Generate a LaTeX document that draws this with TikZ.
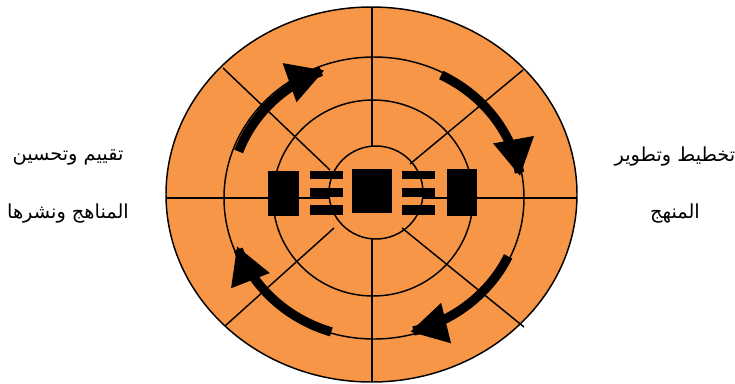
\documentclass[tikz,border=0pt]{standalone}
\usepackage{fontspec}
\usetikzlibrary{arrows.meta}
\TeXXeTstate=1
\newfontfamily\arabicfont[Script=Arabic]{DejaVu Sans}
\definecolor{orangefill}{RGB}{247,150,70}
\begin{document}
\begin{tikzpicture}[x=0.75pt,y=-0.75pt,
  ring/.style={draw=black,line width=1.1pt},
  spoke/.style={draw=black,line width=1.1pt},
  blk/.style={fill=black,draw=none},
  cyc/.style={draw=black,line width=7pt,-{Triangle[length=28pt,width=29pt]}},
  lbl/.style={font=\arabicfont\fontsize{14.5}{17}\selectfont,inner sep=0pt}]
\useasboundingbox (0,0) rectangle (735,383);
% rings
\coordinate (c0) at (371.5,194.5);
\coordinate (c1) at (374,198);
\coordinate (c2) at (373,198);
\coordinate (c3) at (376,192.5);
\fill[orangefill] (c0) ellipse [x radius=205.5, y radius=187.5];
\draw[ring] (c0) ellipse [x radius=205.5, y radius=187.5];
\draw[ring] (c1) ellipse [x radius=150, y radius=141];
\draw[ring] (c2) ellipse [x radius=100, y radius=98];
\draw[ring] (c3) ellipse [x radius=47, y radius=46.5];
% spokes
\coordinate (tA) at (372,7);   \coordinate (tB) at (372,146);
\coordinate (bA) at (372,239); \coordinate (bB) at (372,382);
\coordinate (lA) at (166,198); \coordinate (lB) at (329,198);
\coordinate (rA) at (423,198); \coordinate (rB) at (577,198);
\coordinate (ulA) at (223,68);  \coordinate (ulB) at (330,170);
\coordinate (urA) at (523,70);  \coordinate (urB) at (410,164);
\coordinate (llA) at (225,326); \coordinate (llB) at (334,228);
\coordinate (lrA) at (524,327); \coordinate (lrB) at (402,228);
\draw[spoke] (tA) -- (tB);
\draw[spoke] (bA) -- (bB);
\draw[spoke] (lA) -- (lB);
\draw[spoke] (rA) -- (rB);
\draw[spoke] (ulA) -- (ulB);
\draw[spoke] (urA) -- (urB);
\draw[spoke] (llA) -- (llB);
\draw[spoke] (lrA) -- (lrB);
% central blocks
\fill[blk] (268,171) rectangle (299,216);
\fill[blk] (310,171) rectangle (343,179);
\fill[blk] (310,188) rectangle (343,197);
\fill[blk] (310,205) rectangle (343,215);
\fill[blk] (352,169) rectangle (392,213);
\fill[blk] (402,171) rectangle (435,179);
\fill[blk] (402,188) rectangle (435,197);
\fill[blk] (402,205) rectangle (435,215);
\fill[blk] (447,169) rectangle (477,216);
% cycle arrows (clockwise)
\draw[cyc] plot[domain=200:250,samples=30,smooth] ({374+144*cos(\x)},{198+136*sin(\x)});
\draw[cyc] plot[domain=297:351,samples=30,smooth] ({374+148*cos(\x)},{198+138*sin(\x)});
\draw[cyc] plot[domain=25:76,samples=30,smooth] ({374+148*cos(\x)},{198+138*sin(\x)});
\draw[cyc] plot[domain=107:160,samples=30,smooth] ({374+146*cos(\x)},{198+140*sin(\x)});
% labels
\node[lbl] (l1) at (68,157) {\beginR تقييم وتحسين\endR};
\node[lbl] (l2) at (68,214) {\beginR المناهج ونشرها\endR};
\node[lbl] (r1) at (675,157) {\beginR تخطيط وتطوير\endR};
\node[lbl] (r2) at (675,214) {\beginR المنهج\endR};
\end{tikzpicture}
\end{document}
